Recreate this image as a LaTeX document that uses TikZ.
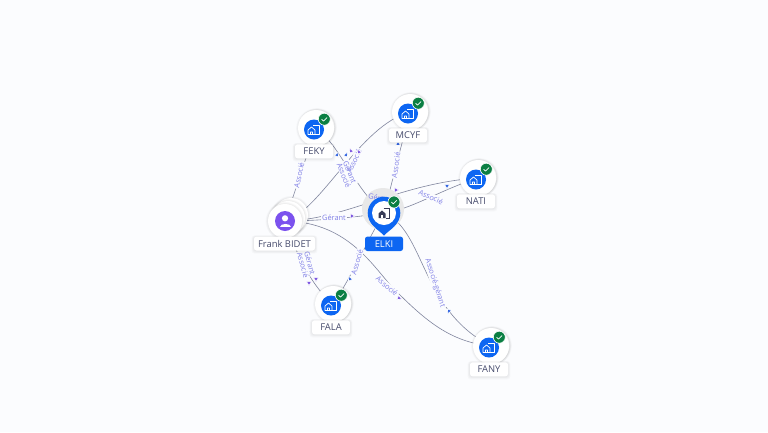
\documentclass[tikz,border=0pt]{standalone}
\usepackage{fontspec}
\setmainfont{Open Sans}
\usetikzlibrary{shapes.geometric}
\definecolor{pagebg}{HTML}{FBFCFE}
\definecolor{edgecol}{HTML}{80859E}
\definecolor{labcol}{HTML}{7F7FE6}
\definecolor{bluetip}{HTML}{2F62E0}
\definecolor{purptip}{HTML}{7C55E0}
\definecolor{compblue}{HTML}{0D66F2}
\definecolor{okgreen}{HTML}{0B7F43}
\definecolor{personpurple}{HTML}{7C52EE}
\definecolor{txtcol}{HTML}{454A6B}
\tikzset{
  edgeline/.style={draw=edgecol,line width=0.6pt},
  edgelab/.style={text=labcol,font=\fontsize{7.4}{8}\selectfont,inner xsep=1pt,inner ysep=0.6pt},
  tipnode/.style={regular polygon,regular polygon sides=3,fill=#1,draw=pagebg,line width=0.7pt,inner sep=0pt,minimum size=5.6pt},
  namebox/.style={fill=white,rounded corners=2.5pt,text=txtcol,font=\fontsize{9.4}{10}\selectfont,inner xsep=2pt,inner ysep=0pt,minimum width=38pt,minimum height=14pt},
  halo/.style={circle,fill=white,inner sep=0pt,minimum size=36pt},
  softshadow/.style={fill=black,opacity=0.018},
}
% soft shadow: rectangle centre x, y, half width, half height
\newcommand{\boxshadow}[4]{%
  \foreach \g in {1,2,3,4}{%
    \fill[softshadow,rounded corners=3pt] (#1-#3-\g*0.6,#2-#4-\g*0.3) rectangle (#1+#3+\g*0.6,#2+#4+\g*0.8);
  }%
}
\newcommand{\discshadow}[3]{%
  \foreach \g in {1,2,3,4}{%
    \fill[softshadow] (#1,#2+0.3) circle (#3+\g*0.6);
  }%
}
% name, circle x, y, label
\newcommand{\companymark}[4]{%
  \discshadow{#2+1.5}{#3-0.8}{17}
  \fill[white] (#2+1.5,#3-0.8) circle (17);
  \discshadow{#2}{#3}{17.5}
  \node[halo] (#1) at (#2,#3) {};
  \fill[compblue] (#2-2,#3+1.5) circle (10);
  \draw[white,line width=0.7pt,line join=round] (#2-8,#3+6.5) -- (#2-8,#3+2) -- (#2-4.5,#3-1) -- (#2-1,#3+2) -- (#2-1,#3+6.5) -- cycle
     (#2-5.5,#3+6.5) -- (#2-5.5,#3+4) -- (#2-3.5,#3+4) -- (#2-3.5,#3+6.5)
     (#2-3,#3-2.5) -- (#2+3.5,#3-2.5) -- (#2+3.5,#3+6.5) -- (#2-1,#3+6.5);
  \fill[okgreen,draw=white,line width=0.6pt] (#2+8.3,#3-8.8) circle (6);
  \draw[white,line width=0.7pt] (#2+5.6,#3-8.8) -- (#2+7.5,#3-7) -- (#2+11.1,#3-10.4);
  \boxshadow{#2-2}{#3+23.3}{19}{7}
  \node[namebox] (#1label) at (#2-2,#3+23.3) {#4};
}
% connector labels: #1 wrapper for the text, #2 extra style
\newcommand{\labellist}[2]{%
  \node[edgelab,#2,rotate=78] (lfeky) at (299,175) {#1{Associé}};
  \node[edgelab,#2,inner ysep=2.6pt] (lgerant) at (334,217.5) {#1{Gérant}};
  \node[edgelab,#2,rotate=-13] (lgerantn) at (380,198) {#1{Gérant}};
  \node[edgelab,#2,rotate=65] (lmcyf) at (354,161) {#1{Associé}};
  \node[edgelab,#2,rotate=-68] (lg2) at (350,172) {#1{Gérant}};
  \node[edgelab,#2,rotate=-68] (la2) at (344,175) {#1{Associé}};
  \node[edgelab,#2,rotate=82] (lup) at (396,165) {#1{Associé}};
  \node[edgelab,#2,rotate=-24] (lnati) at (431,197) {#1{Associé}};
  \node[edgelab,#2,rotate=74] (ldown) at (357,262) {#1{Associé}};
  \node[edgelab,#2,rotate=-75] (lg3) at (310,263) {#1{Gérant}};
  \node[edgelab,#2,rotate=-75] (la3) at (303,265) {#1{Associé}};
  \node[edgelab,#2,rotate=-40] (lfany) at (387,286) {#1{Associé}};
  \node[edgelab,#2,rotate=-72] (lag) at (435,283) {#1{Associé-gérant}};
}
\begin{document}
\begin{tikzpicture}[x=1pt,y=-1pt]
\useasboundingbox (0,0) rectangle (768,432);
\fill[pagebg] (0,0) rectangle (768,432);

% node anchors for the connectors
\coordinate (frank) at (285,221);
\coordinate (elki) at (384,213);
\coordinate (feky) at (316,128);
\coordinate (mcyf) at (410,112);
\coordinate (nati) at (478,178);
\coordinate (fala) at (333,304);
\coordinate (fany) at (491,346);

% connectors
\draw[edgeline] (frank) -- (feky);
\draw[edgeline] (frank) .. controls (315,221) and (350,218) .. (elki);
\draw[edgeline] (frank) .. controls (345,220) and (400,183) .. (nati);
\draw[edgeline] (frank) .. controls (320,212) and (360,125) .. (mcyf);
\draw[edgeline] (feky) .. controls (340,145) and (355,190) .. (elki);
\draw[edgeline] (elki) -- (mcyf);
\draw[edgeline] (elki) .. controls (410,210) and (440,190) .. (nati);
\draw[edgeline] (elki) .. controls (370,235) and (350,280) .. (fala);
\draw[edgeline] (frank) .. controls (295,250) and (310,285) .. (fala);
\draw[edgeline] (frank) .. controls (350,222) and (375,270) .. (395,290) .. controls (425,320) and (450,342) .. (fany);
\draw[edgeline] (elki) .. controls (425,230) and (420,310) .. (fany);

% connector labels: masks first, then the halo, then the texts
\labellist{\phantom}{fill=pagebg}
\fill[black!9] (383,209) circle (21);
\labellist{\relax}{fill=none}

% arrow tips
\node[tipnode=bluetip,rotate=-20] (t1) at (337,155) {};
\node[tipnode=bluetip,rotate=-20] (t2) at (346,155) {};
\node[tipnode=purptip,rotate=20] (t3) at (351,151) {};
\node[tipnode=purptip,rotate=20] (t4) at (359,152) {};
\node[tipnode=bluetip] (t5) at (398,144) {};
\node[tipnode=purptip,rotate=-90] (t6) at (352,216) {};
\node[tipnode=purptip,rotate=-90] (t7) at (396,190) {};
\node[tipnode=bluetip,rotate=-60] (t8) at (447,186) {};
\node[tipnode=bluetip,rotate=20] (t9) at (350,279) {};
\node[tipnode=purptip,rotate=180] (t10) at (316,279) {};
\node[tipnode=purptip,rotate=180] (t11) at (309,283) {};
\node[tipnode=purptip,rotate=130] (t12) at (399,298) {};
\node[tipnode=bluetip,rotate=160] (t13) at (449,311) {};

% companies
\companymark{nfeky}{316}{128}{FEKY}
\companymark{nmcyf}{410}{112}{MCYF}
\companymark{nnati}{478}{178}{NATI}
\companymark{nfala}{333}{304}{FALA}
\companymark{nfany}{491}{346}{FANY}

% Frank BIDET
\discshadow{291}{215}{17}
\node[circle,fill=white,minimum size=34pt,inner sep=0pt] (s1) at (291,215) {};
\discshadow{288}{218}{17}
\node[circle,fill=white,minimum size=34pt,inner sep=0pt] (s2) at (288,218) {};
\discshadow{285}{221}{17}
\node[circle,fill=white,minimum size=34pt,inner sep=0pt] (nfrank) at (285,221) {};
\fill[personpurple] (285,221) circle (10);
\fill[white] (285,218.3) circle (3.1);
\fill[white] (279.5,227) .. controls (279.5,222.5) and (290.5,222.5) .. (290.5,227) -- cycle;
\boxshadow{284.5}{243.5}{30.5}{7}
\node[namebox,minimum width=61pt] (nfranklabel) at (284.5,243.5) {Frank BIDET};

% ELKI pin
\fill[compblue] (369.5,220) .. controls (373,228) and (380,231) .. (384,235.5) .. controls (388,231) and (395,228) .. (398.5,220) -- cycle;
\fill[compblue] (elki) circle (16.3);
\node[circle,fill=white,minimum size=24pt,inner sep=0pt] (nelki) at (384,213) {};
\fill[txtcol!80!black] (378.5,218) -- (378.5,213.5) -- (382,210.5) -- (385.5,213.5) -- (385.5,218) -- cycle;
\draw[txtcol!80!black,line width=0.8pt] (383.5,208.5) -- (389.5,208.5) -- (389.5,218) -- (385.5,218);
\fill[white] (381,218) rectangle (383,215);
\fill[okgreen,draw=white,line width=0.6pt] (394,202) circle (6);
\draw[white,line width=0.7pt] (391.3,202) -- (393.2,203.8) -- (396.8,200.4);
\node[fill=compblue,rounded corners=2.5pt,text=white,font=\fontsize{9.4}{10}\selectfont,minimum width=38pt,minimum height=14.5pt,inner sep=0pt] (nelkilabel) at (384,243.8) {ELKI};
\end{tikzpicture}
\end{document}
